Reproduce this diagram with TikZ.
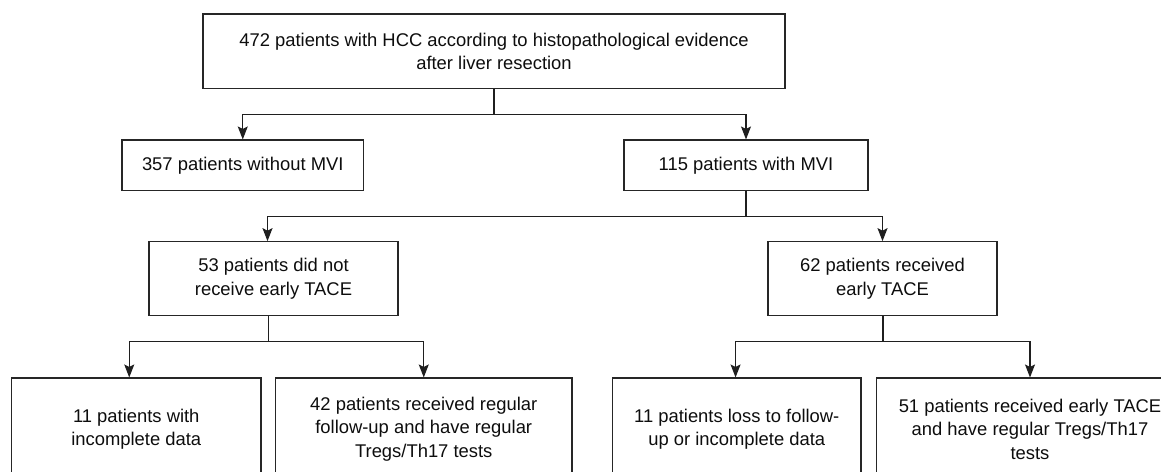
\documentclass[tikz,border=0pt]{standalone}
\usepackage{fontspec}
\setmainfont{Liberation Sans}
\usetikzlibrary{arrows.meta}
\begin{document}
\begin{tikzpicture}[x=1pt,y=-1pt,
  box/.style={draw=black!85, line width=1.1pt, inner sep=0pt, align=center,
    font=\fontsize{18.4}{23.5}\selectfont, text=black!95},
  conn/.style={draw=black!88, line width=1.1pt},
  arr/.style={conn, -{Stealth[length=13pt,width=10pt,inset=2.5pt]}}]
\useasboundingbox (0,0) rectangle (1161,471);
\clip (0,0) rectangle (1161,471);
% top
\node[box, minimum width=582, minimum height=74.7] (T) at (494,51.3)
  {472 patients with HCC according to histopathological evidence\\after liver resection};
% second row
\node[box, minimum width=241.5, minimum height=50.5] (A) at (242.75,165.25) {357 patients without MVI};
\node[box, minimum width=244, minimum height=50.5] (B) at (746,165.25) {115 patients with MVI};
% third row
\node[box, minimum width=249, minimum height=74] (C) at (273.5,278.7) {53 patients did not\\receive early TACE};
\node[box, minimum width=229, minimum height=74] (D) at (882.5,278.7) {62 patients received\\early TACE};
% bottom row
\node[box, minimum width=249.5, minimum height=102] (E) at (136.25,429) {11 patients with\\incomplete data};
\node[box, minimum width=296.5, minimum height=102] (F) at (423.75,429) {42 patients received regular\\follow-up and have regular\\Tregs/Th17 tests};
\node[box, minimum width=248.5, minimum height=102] (G) at (736.75,429) {11 patients loss to follow-\\up or incomplete data};
\node[box, minimum width=307, minimum height=102] (H) at (1030,429) {51 patients received early TACE\\and have regular Tregs/Th17\\tests};
% connectors
\coordinate (j1) at (494,114.7);
\draw[conn] (T.south) -- (j1);
\draw[arr] (j1) -| (A.north);
\draw[arr] (j1) -| (B.north);
\coordinate (j2) at (746,216.5);
\draw[conn] (B.south) -- (j2);
\draw[arr] (j2) -| ([xshift=-6]C.north);
\draw[arr] (j2) -| (D.north);
\coordinate (j3) at (268.5,341.7);
\draw[conn] ([xshift=-5]C.south) -- (j3);
\draw[arr] (j3) -| ([xshift=-7]E.north);
\draw[arr] (j3) -| (F.north);
\coordinate (j4) at (883,341.7);
\draw[conn] ([xshift=0.5]D.south) -- (j4);
\draw[arr] (j4) -| ([xshift=-1.2]G.north);
\draw[arr] (j4) -| (H.north);
\end{tikzpicture}
\end{document}
